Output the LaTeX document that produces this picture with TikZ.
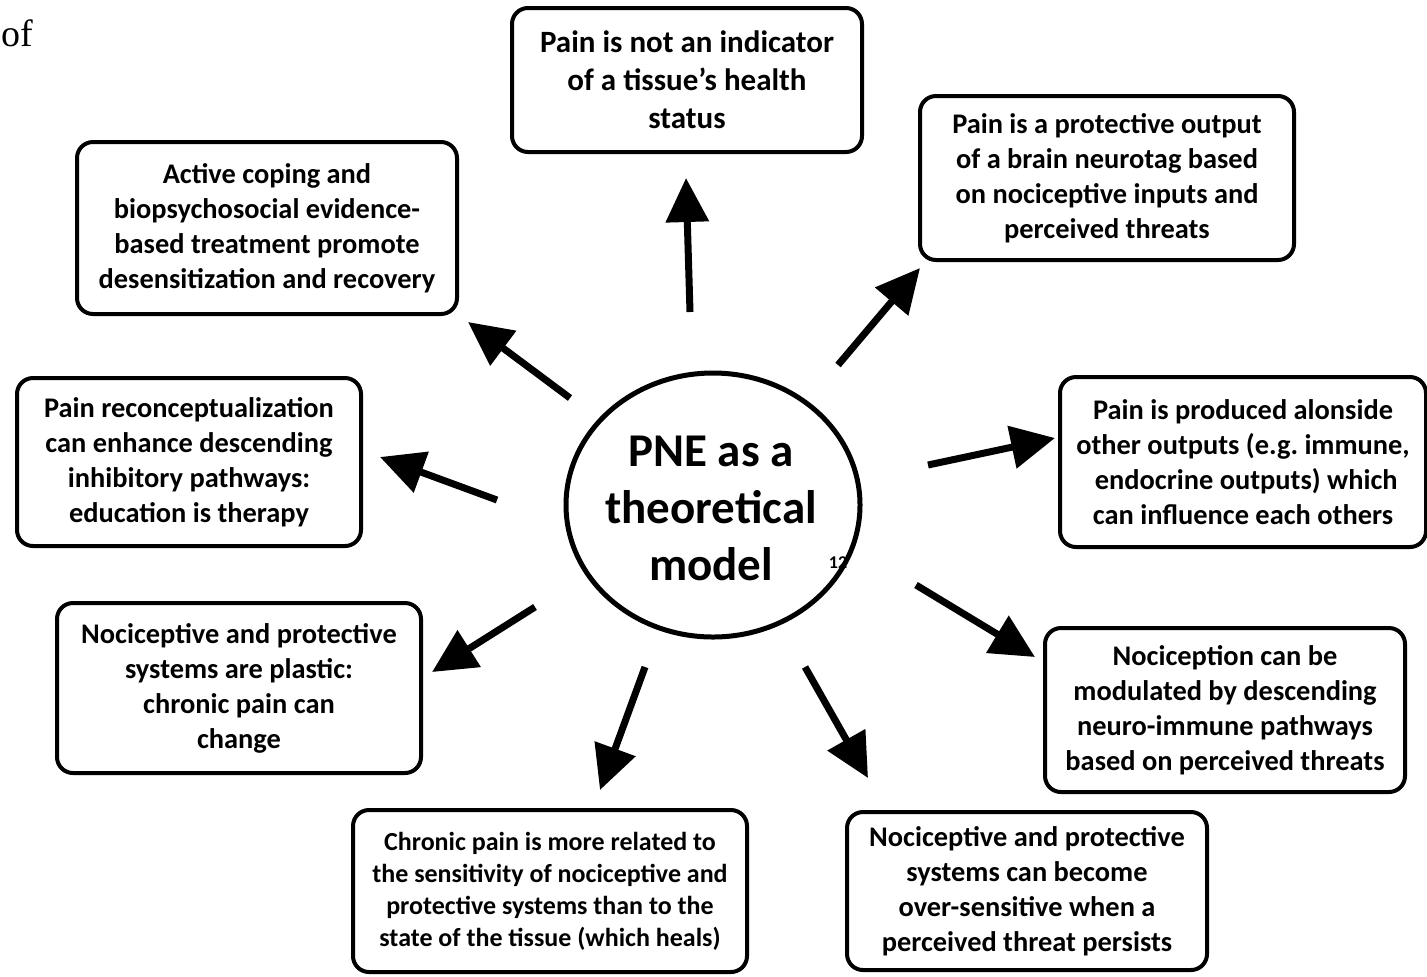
\documentclass[tikz,border=0pt]{standalone}
\usepackage{fontspec}
\setmainfont{Carlito}
\newfontfamily\serifof{Liberation Serif}
\usetikzlibrary{arrows.meta,shapes.geometric}
\frenchspacing
\begin{document}
\begin{tikzpicture}[x=0.5pt,y=-0.5pt,
  box/.style={draw,line width=2pt,rounded corners=8pt,align=center,inner sep=0pt,
    font=\bfseries\fontsize{14.2}{17.5}\selectfont},
  arr/.style={line width=3.5pt,-{Triangle[length=22pt,width=21pt]},shorten <=0pt}]
\useasboundingbox (0,0) rectangle (1427,976);
\fill[white] (0,0) rectangle (1427,976);
\node[anchor=base west,inner sep=0pt,font=\serifof\fontsize{19}{22}\selectfont] (of) at (1,46) {of};
\node[draw,ellipse,line width=2.5pt,minimum width=147pt,minimum height=132pt,inner sep=0pt] (c) at (713,505) {};
\node[align=center,font=\bfseries\fontsize{23.5}{28.5}\selectfont] (ct) at (711,508) {PNE as a\\theoretical\\model};
\node[font=\bfseries\fontsize{9}{10}\selectfont] (sup) at (838,563) {12};

\node[box,minimum width=175pt,minimum height=72pt,font=\bfseries\fontsize{15.5}{19}\selectfont] (b1) at (687,80) {Pain is not an indicator\\of a tissue's health\\status};
\node[box,minimum width=187pt,minimum height=82pt] (b2) at (1107,178) {Pain is a protective output\\of a brain neurotag based\\on nociceptive inputs and\\perceived threats};
\node[box,minimum width=183pt,minimum height=85pt] (b3) at (1243,462) {Pain is produced alonside\\other outputs (e.g. immune,\\\ endocrine outputs) which\\can influence each others};
\node[box,minimum width=180pt,minimum height=82pt] (b4) at (1225,710) {Nociception can be\\modulated by descending\\neuro-immune pathways\\based on perceived threats};
\node[box,minimum width=180pt,minimum height=79pt] (b5) at (1027,891) {Nociceptive and protective\\systems can become\\over-sensitive when a\\perceived threat persists};
\node[box,minimum width=197pt,minimum height=81pt,font=\bfseries\fontsize{13}{16}\selectfont] (b6) at (550,891) {Chronic pain is more related to\\the sensitivity of nociceptive and\\protective systems than to the\\state of the tissue (which heals)};
\node[box,minimum width=182pt,minimum height=85pt] (b7) at (239,688) {Nociceptive and protective\\systems are plastic:\\chronic pain can\\change};
\node[box,minimum width=172pt,minimum height=84pt] (b8) at (189,462) {Pain reconceptualization\\can enhance descending\\inhibitory pathways:\\education is therapy};
\node[box,minimum width=190pt,minimum height=86pt] (b9) at (267,228) {Active coping and\\biopsychosocial evidence-\\based treatment promote\\desensitization and recovery};

\coordinate (s1) at (690,312); \coordinate (t1) at (686,178);
\coordinate (s2) at (838,365); \coordinate (t2) at (920,268);
\coordinate (s3) at (928,465); \coordinate (t3) at (1055,438);
\coordinate (s4) at (916,585); \coordinate (t4) at (1035,657);
\coordinate (s5) at (805,667); \coordinate (t5) at (868,778);
\coordinate (s6) at (645,667); \coordinate (t6) at (600,790);
\coordinate (s7) at (535,607); \coordinate (t7) at (432,672);
\coordinate (s8) at (497,500); \coordinate (t8) at (380,457);
\coordinate (s9) at (570,398); \coordinate (t9) at (468,322);
\foreach \i in {1,...,9} {\draw[arr] (s\i) -- (t\i);}
\end{tikzpicture}
\end{document}
